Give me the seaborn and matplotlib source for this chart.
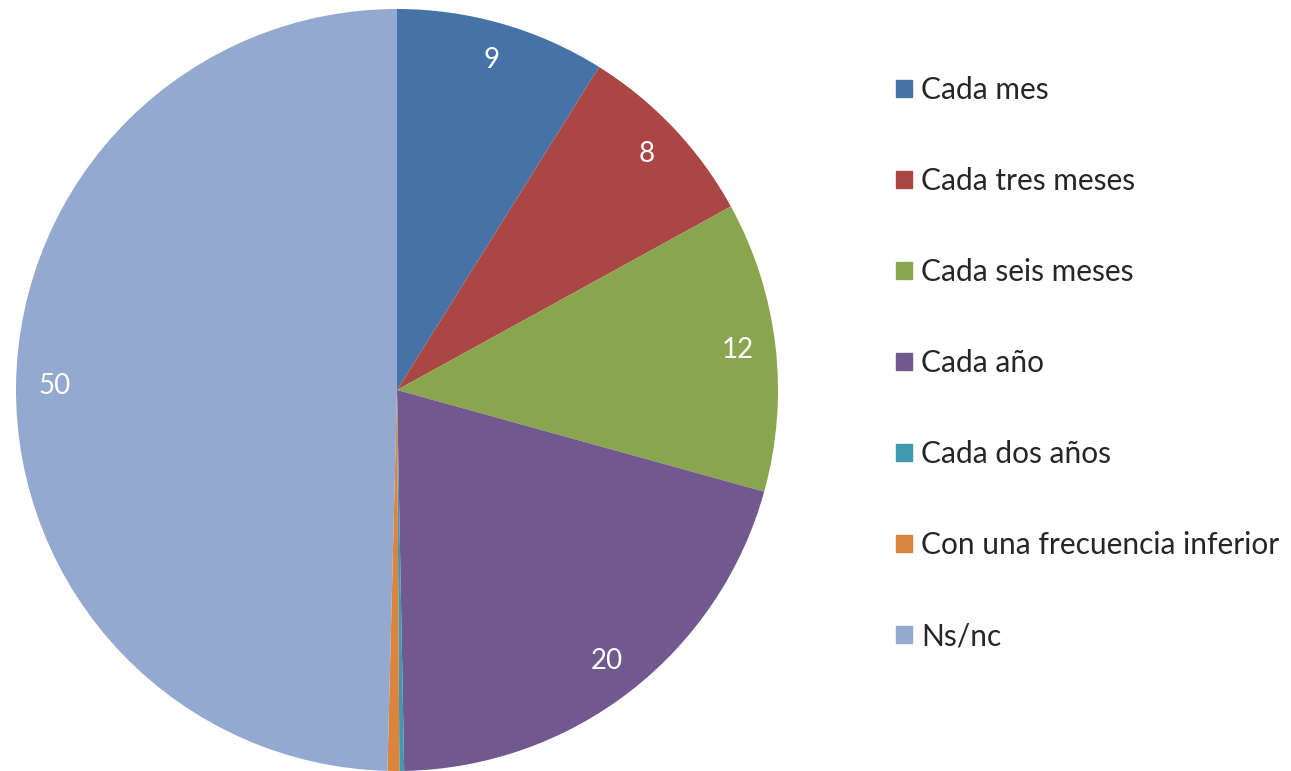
import matplotlib
matplotlib.use("Agg")
import matplotlib.pyplot as plt
import matplotlib.patches as mpatches
import seaborn as sns

# datos (porcentaje)
categorias = ['Cada mes', 'Cada tres meses', 'Cada seis meses', 'Cada año',
              'Cada dos años', 'Con una frecuencia inferior', 'Ns/nc']
valores = [8.9, 8.1, 12.3, 20.4, 0.2, 0.5, 49.6]
etiquetas = ['9', '8', '12', '20', '', '', '50']
colores = ['#4572A7', '#AA4643', '#89A54E', '#71588F', '#4198AF', '#DB843D', '#93A9CF']

sns.set_theme(style='white')
plt.rcParams['font.family'] = ['Lato', 'DejaVu Sans']

fig = plt.figure(figsize=(12.91, 7.71), dpi=100)
ax = fig.add_axes([16 / 1291, 0, 762 / 1291, 762 / 771])

cunas, textos = ax.pie(valores, labels=etiquetas, colors=colores, startangle=90,
                       counterclock=False, labeldistance=0.9,
                       wedgeprops={'linewidth': 0},
                       textprops={'color': 'white', 'fontsize': 20})
for t in textos:
    t.set_horizontalalignment('center')
    t.set_verticalalignment('center')
ax.set_xlim(-1, 1)
ax.set_ylim(-1, 1)
ax.set_aspect('equal')
ax.axis('off')

handles = [mpatches.Patch(color=c, label=l) for c, l in zip(colores, categorias)]
fig.legend(handles=handles, loc='upper left', bbox_to_anchor=(896 / 1291, 1 - 76 / 771),
           frameon=False, fontsize=21.5, labelspacing=2.11, handlelength=0.55,
           handleheight=0.5, handletextpad=0.3, borderaxespad=0, borderpad=0)

plt.savefig('out.png', dpi=100)
